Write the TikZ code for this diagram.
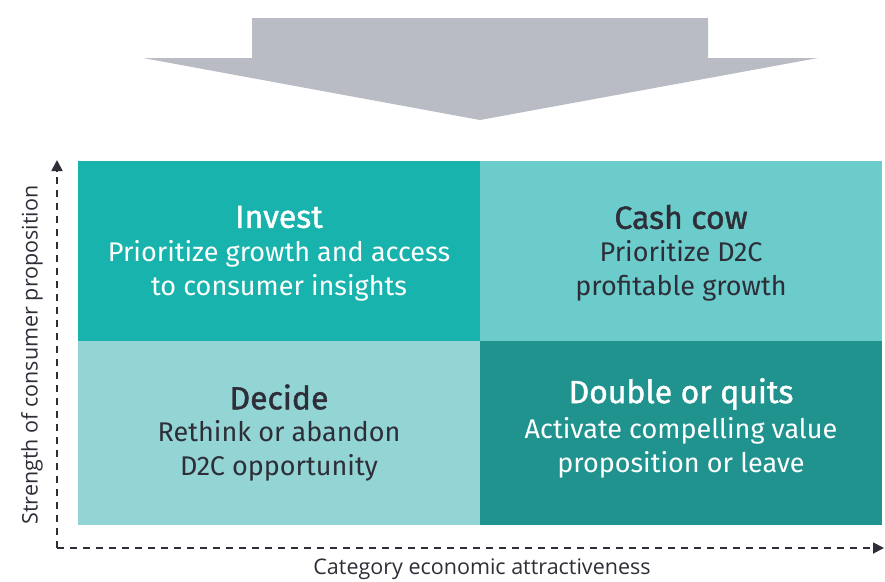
\documentclass[tikz,border=0pt]{standalone}
\usepackage{fontspec}
\setmainfont{Fira Sans}
\newfontfamily\titlefont[FakeBold=1.3]{Fira Sans}
\newfontfamily\axisfont{Open Sans}
\usetikzlibrary{arrows.meta}
\definecolor{investc}{RGB}{24,179,172}
\definecolor{cashc}{RGB}{108,203,203}
\definecolor{decidec}{RGB}{147,212,212}
\definecolor{doublec}{RGB}{33,147,143}
\definecolor{arrowc}{RGB}{185,188,197}
\definecolor{darkc}{RGB}{46,46,56}
\tikzset{
  x=1pt, y=-1pt,
  title/.style={font=\titlefont\fontsize{32}{36}\selectfont, anchor=center},
  body/.style={font=\fontsize{27}{34}\selectfont, align=center, anchor=center},
  axisline/.style={draw=darkc, line width=1.8pt, dash pattern=on 7pt off 6pt, -{Triangle[length=11pt,width=11pt]}},
  axislabel/.style={font=\axisfont\fontsize{21.5}{24}\selectfont, text=darkc}
}
\begin{document}
\begin{tikzpicture}
\useasboundingbox (0,0) rectangle (885,581);
% big arrow
\fill[arrowc] (252,18) -- (708,18) -- (708,58) -- (818,58) -- (480,120) -- (143,58) -- (252,58) -- cycle;
% quadrants
\fill[investc] (78,161) rectangle (480,341);
\fill[cashc] (480,161) rectangle (882,341);
\fill[decidec] (78,341) rectangle (480,525);
\fill[doublec] (480,341) rectangle (882,525);
% texts
\node[title, text=white] (t1) at (279,217) {Invest};
\node[body, text=white] (b1) at (279,271) {Prioritize growth and access\\to consumer insights};
\node[title, text=darkc] (t2) at (681,217) {Cash cow};
\node[body, text=darkc] (b2) at (681,271) {Prioritize D2C\\profitable growth};
\node[title, text=darkc] (t3) at (279,397) {Decide};
\node[body, text=darkc] (b3) at (279,451) {Rethink or abandon\\D2C opportunity};
\node[title, text=white] (t4) at (681,394) {Double or quits};
\node[body, text=white] (b4) at (681,448) {Activate compelling value\\proposition or leave};
% axes
\coordinate (o) at (57,548);
\coordinate (ytop) at (57,160);
\coordinate (xend) at (884,548);
\draw[axisline] (o) -- (ytop);
\draw[axisline] (o) -- (xend);
\node[axislabel, rotate=90] (yl) at (32,355) {Strength of consumer proposition};
\node[axislabel] (xl) at (482,569) {Category economic attractiveness};
\end{tikzpicture}
\end{document}
